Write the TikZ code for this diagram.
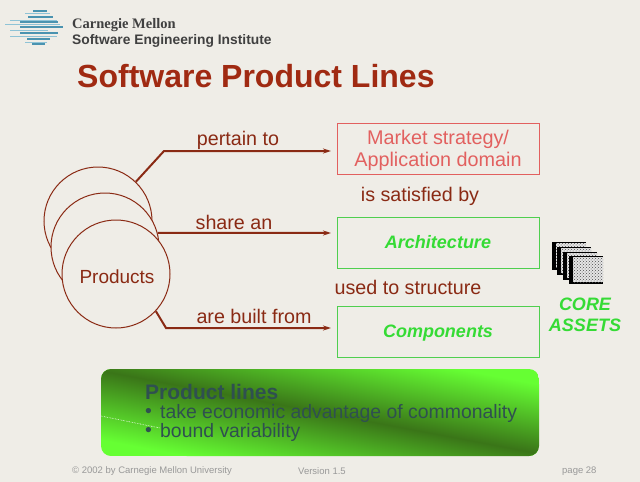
\documentclass[tikz,border=0pt]{standalone}
\usepackage{fontspec}
\setmainfont{Liberation Sans}
\newfontfamily\serifbold{Liberation Serif}
\usetikzlibrary{arrows.meta}
\usetikzlibrary{patterns}
\usetikzlibrary{calc,positioning}

\definecolor{paper}{HTML}{EFEDE7}
\definecolor{rust}{HTML}{8A2A14}
\definecolor{titlered}{HTML}{A02A12}
\definecolor{marketred}{HTML}{E2605F}
\definecolor{coregreen}{HTML}{35DB35}
\definecolor{boxgreen}{HTML}{4FCF4F}
\definecolor{barlight}{HTML}{66FF33}
\definecolor{bardark}{HTML}{3A7518}
\definecolor{slate}{HTML}{2F5050}
\definecolor{logoblue}{HTML}{4A93B0}
\definecolor{logopale}{HTML}{8FC3D6}

\tikzset{
    fs/.style={font=\fontsize{#1}{#1}\selectfont},
    product/.style={circle, draw=rust, fill=paper, line width=1pt, minimum size=108pt, inner sep=0pt},
    link/.style={-{Stealth[length=8pt,width=5pt]}, rust, line width=2pt},
    linktext/.style={text=rust, fs=19.7},
    assetbox/.style={draw=boxgreen, line width=0.8pt, minimum width=202pt, minimum height=51pt, text height=16pt, text depth=4pt, text=coregreen, font=\fontsize{18}{18}\selectfont\bfseries\itshape},
    sheet/.style={pattern=crosshatch dots, pattern color=black!70},
    foot/.style={text=black!40, fs=9.5},
    barline/.style={anchor=west, inner sep=0pt, text=slate, fs=19.4},
}

\begin{document}
\begin{tikzpicture}[>=Stealth, x=1pt, y=-1pt]

    \fill[paper] (0,0) rectangle (640,482);
    \useasboundingbox (0,0) rectangle (640,482);

    % logo
    \foreach \yy/\xa/\xb in {13/25/50, 20/10/57, 24.5/5/60, 30/10/48, 36/10/57, 42/25/47}
        \draw[logopale, line width=1pt] (\xa,\yy) -- (\xb,\yy);
    \foreach \yy/\xa/\xb in {11/33/47, 17/28/53, 22/20/58, 27/20/63, 32.5/20/58, 38.5/27/50, 44/32/45}
        \draw[logoblue, line width=2pt] (\xa,\yy) -- (\xb,\yy);
    \node[anchor=west, inner sep=0pt, text=black!75, font=\serifbold\fontsize{14.5}{14.5}\selectfont\bfseries] (cmu) at (72,25) {Carnegie Mellon};
    \node[anchor=west, inner sep=0pt, text=black!75, font=\fontsize{13.8}{13.8}\selectfont\bfseries] (sei) at (72,41) {Software Engineering Institute};

    \node[anchor=west, inner sep=0pt, text=titlered, font=\fontsize{32}{32}\selectfont\bfseries] (title) at (77,76) {Software Product Lines};

    % products
    \node[product] (prodA) at (98,221) {};
    \node[product] (prodB) at (105,247) {};
    \node[product] (prodC) at (116,274) {};
    \node[text=rust, fs=19, inner sep=0pt] (prodtext) at (117,277) {Products};

    % boxes
    \node[draw=marketred, line width=0.8pt, minimum width=202pt, minimum height=51pt] (market) at (438,148.5) {};
    \node[align=center, inner sep=0pt, text=marketred, font=\fontsize{19.8}{21.5}\selectfont] (markettext) at (438,150.5) {Market strategy/\\Application domain};
    \node[assetbox] (arch) at (438,242.5) {Architecture};
    \node[assetbox] (comp) at (438,331.5) {Components};

    \coordinate (bendA) at (164,151);
    \coordinate (endA) at (331,151);
    \coordinate (endB) at (331,233);
    \coordinate (bendC) at (166,328);
    \coordinate (endC) at (331,328);

    \draw[link] (prodA.46) -- (bendA) -- (endA);
    \draw[link] (prodB.15) -- (endB);
    \draw[link] (prodC.-43) -- (bendC) -- (endC);

    \node[linktext] (pertain) at (238,140) {pertain to};
    \node[linktext] (share) at (234,222) {share an};
    \node[linktext] (built) at (254,316) {are built from};
    \node[linktext] (satisfied) at (420,196) {is satisfied by};
    \node[linktext] (structure) at (408,287) {used to structure};

    % core assets
    \foreach \xx/\yy in {0/0,5/5,11/10,17/14}{
        \fill[black] (552+\xx,242+\yy) rectangle (586+\xx,270+\yy);
        \fill[white!90!black] (556+\xx,243+\yy) rectangle (586+\xx,268+\yy);
        \fill[sheet] (556+\xx,243+\yy) rectangle (586+\xx,268+\yy);
    }
    \node[align=center, text=coregreen, font=\fontsize{18}{21}\selectfont\bfseries\itshape] (core) at (585,315) {CORE\\ASSETS};

    % bar
    \begin{scope}
        \clip[rounded corners=10pt] (101,369) rectangle (539,456);
        \fill[barlight] (101,369) rectangle (539,456);
        \begin{scope}[transform canvas={rotate around={-10.7:(320,412)}}]
            \shade[top color=barlight, bottom color=barlight, middle color=bardark] (0,344) rectangle (640,480);
        \end{scope}
    \end{scope}
    \coordinate (dotA) at (101,416);
    \coordinate (dotB) at (160,428);
    \draw[white, densely dotted, line width=0.6pt] (dotA) -- (dotB);
    \node[anchor=west, inner sep=0pt, text=slate, font=\fontsize{21}{21}\selectfont\bfseries] (lines) at (145,392) {Product lines};
    \node[barline] (bulletA) at (145,413) {•};
    \node[barline] (bulletB) at (145,432) {•};
    \node[barline] (econ) at (160,413) {take economic advantage of commonality};
    \node[barline] (bound) at (160,432) {bound variability};

    % footer
    \node[foot, anchor=west, inner sep=0pt] (copyr) at (72,471) {© 2002 by Carnegie Mellon University};
    \node[foot, anchor=west, inner sep=0pt] (version) at (298,471) {Version 1.5};
    \node[foot, anchor=west, inner sep=0pt] (page) at (562,471) {page 28};

\end{tikzpicture}
\end{document}
